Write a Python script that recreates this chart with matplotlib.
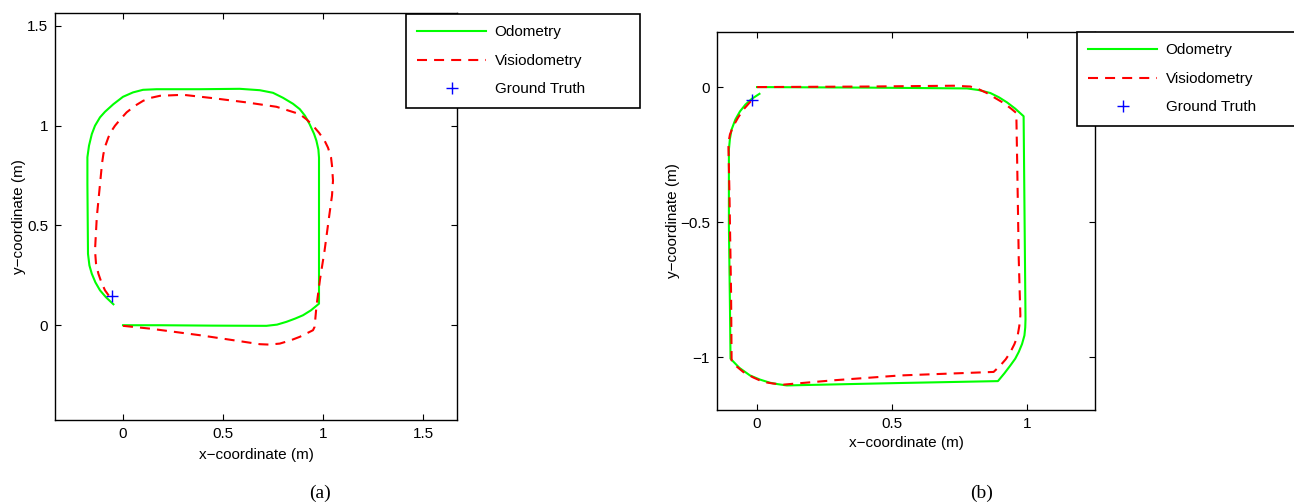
import matplotlib
matplotlib.use("Agg")
import matplotlib.pyplot as plt

plt.rcParams['font.family'] = ['Liberation Sans', 'DejaVu Sans']
plt.rcParams['font.size'] = 11

# ---- (a) trajectory data (metres) ----
odo_a_x = [0.0, 0.185, 0.45, 0.717, 0.77, 0.817, 0.86, 0.9, 0.94, 0.98, 0.98, 0.98,
           0.977, 0.967, 0.955, 0.933, 0.91, 0.884, 0.85, 0.8, 0.75, 0.684, 0.584,
           0.384, 0.168, 0.1, 0.05, 0.0, -0.048, -0.09, -0.115, -0.14, -0.156, -0.17,
           -0.178, -0.178, -0.175, -0.168, -0.156, -0.138, -0.115, -0.085, -0.048]
odo_a_y = [0.0, 0.0, -0.002, -0.003, 0.003, 0.017, 0.033, 0.05, 0.075, 0.108, 0.175,
           0.84, 0.88, 0.925, 0.96, 1.008, 1.05, 1.083, 1.11, 1.14, 1.165, 1.178, 1.185,
           1.183, 1.183, 1.18, 1.167, 1.145, 1.108, 1.07, 1.042, 1.0, 0.958, 0.9,
           0.842, 0.708, 0.358, 0.3, 0.258, 0.215, 0.175, 0.14, 0.105]

vis_a_x = [0.0, 0.135, 0.384, 0.551, 0.684, 0.73, 0.784, 0.84, 0.884, 0.93, 0.95, 0.958,
           0.967, 0.985, 1.008, 1.03, 1.045, 1.05, 1.045, 1.04, 1.025, 1.008, 0.98, 0.95,
           0.92, 0.884, 0.767, 0.617, 0.451, 0.301, 0.185, 0.14, 0.101, 0.06, 0.018,
           -0.015, -0.04, -0.06, -0.073, -0.088, -0.098, -0.105, -0.11, -0.131, -0.14,
           -0.135, -0.123, -0.108, -0.09, -0.06]
vis_a_y = [-0.003, -0.017, -0.05, -0.075, -0.095, -0.097, -0.092, -0.075, -0.058, -0.035,
           -0.025, -0.008, 0.092, 0.23, 0.375, 0.54, 0.65, 0.725, 0.8, 0.842, 0.89, 0.925,
           0.965, 1.0, 1.03, 1.058, 1.095, 1.117, 1.138, 1.155, 1.15, 1.14, 1.125, 1.1,
           1.067, 1.03, 1.0, 0.97, 0.942, 0.9, 0.858, 0.81, 0.758, 0.542, 0.375, 0.31,
           0.258, 0.215, 0.175, 0.133]

gt_a_x = [-0.056]
gt_a_y = [0.146]

# ---- (b) trajectory data (metres) ----
odo_b_x = [0.0, 0.406, 0.777, 0.82, 0.863, 0.895, 0.925, 0.955, 0.986, 0.993, 0.992,
           0.989, 0.98, 0.968, 0.955, 0.937, 0.915, 0.891, 0.53, 0.11, 0.075, 0.048,
           0.01, -0.026, -0.065, -0.098, -0.1, -0.104, -0.104, -0.1, -0.094, -0.08,
           -0.063, -0.043, -0.02, 0.009]
odo_b_y = [0.0, -0.002, -0.005, -0.011, -0.022, -0.038, -0.057, -0.08, -0.108, -0.859,
           -0.89, -0.92, -0.952, -0.981, -1.006, -1.031, -1.06, -1.089, -1.096, -1.105,
           -1.1, -1.095, -1.083, -1.068, -1.04, -1.006, -0.822, -0.514, -0.231, -0.19,
           -0.157, -0.12, -0.09, -0.065, -0.044, -0.025]

vis_b_x = [0.0, 0.406, 0.727, 0.789, 0.82, 0.85, 0.88, 0.912, 0.94, 0.959, 0.962, 0.968,
           0.974, 0.97, 0.964, 0.952, 0.937, 0.92, 0.9, 0.875, 0.53, 0.283, 0.098, 0.06,
           0.023, -0.015, -0.051, -0.075, -0.094, -0.096, -0.102, -0.106, -0.1, -0.088,
           -0.07, -0.051, -0.035, -0.02]
vis_b_y = [0.0, 0.002, 0.005, 0.002, -0.008, -0.022, -0.04, -0.059, -0.08, -0.096, -0.268,
           -0.637, -0.846, -0.885, -0.92, -0.952, -0.982, -1.008, -1.031, -1.055, -1.068,
           -1.086, -1.102, -1.098, -1.092, -1.075, -1.055, -1.035, -1.012, -0.76, -0.391,
           -0.207, -0.175, -0.145, -0.113, -0.084, -0.066, -0.049]

gt_b_x = [-0.018]
gt_b_y = [-0.048]

# ---- ticks / labels ----
ticks_a = [0, 0.5, 1, 1.5]
ticklabels_a = ['0', '0.5', '1', '1.5']
xticks_b = [0, 0.5, 1]
xticklabels_b = ['0', '0.5', '1']
yticks_b = [-1, -0.5, 0]
yticklabels_b = ['\u22121', '\u22120.5', '0']
legend_labels = ['Odometry', 'Visiodometry', 'Ground Truth']

W, H = 1294, 504
fig = plt.figure(figsize=(W / 100, H / 100), dpi=100)


def style_axes(ax):
    ax.tick_params(direction='in', top=True, right=True, length=4, width=0.8,
                   pad=5, labelsize=11)
    for sp in ax.spines.values():
        sp.set_linewidth(1.0)


def draw(ax, ox, oy, vx, vy, gx, gy):
    l1, = ax.plot(ox, oy, color=(0, 1, 0), lw=1.5)
    l2, = ax.plot(vx, vy, color=(1, 0, 0), lw=1.5, linestyle=(0, (4.8, 3.4)))
    l3, = ax.plot(gx, gy, linestyle='none', marker='+', color=(0, 0, 1),
                  markersize=8, markeredgewidth=1.0)
    return [l1, l2, l3]


# left panel
ax1 = fig.add_axes([55 / W, 1 - 420 / H, 402 / W, 407 / H])
h1 = draw(ax1, odo_a_x, odo_a_y, vis_a_x, vis_a_y, gt_a_x, gt_a_y)
ax1.set_xlim(-0.34, 1.67)
ax1.set_ylim(-0.475, 1.565)
ax1.set_xticks(ticks_a)
ax1.set_xticklabels(ticklabels_a)
ax1.set_yticks(ticks_a)
ax1.set_yticklabels(ticklabels_a)
ax1.set_xlabel('x\u2212coordinate (m)', fontsize=11, labelpad=5)
ax1.set_ylabel('y\u2212coordinate (m)', fontsize=11, labelpad=1)
style_axes(ax1)

# right panel
ax2 = fig.add_axes([717 / W, 1 - 410 / H, 378 / W, 378 / H])
h2 = draw(ax2, odo_b_x, odo_b_y, vis_b_x, vis_b_y, gt_b_x, gt_b_y)
ax2.set_xlim(-0.148, 1.25)
ax2.set_ylim(-1.196, 0.204)
ax2.set_xticks(xticks_b)
ax2.set_xticklabels(xticklabels_b)
ax2.set_yticks(yticks_b)
ax2.set_yticklabels(yticklabels_b)
ax2.set_xlabel('x\u2212coordinate (m)', fontsize=11, labelpad=4)
ax2.set_ylabel('y\u2212coordinate (m)', fontsize=11, labelpad=0)
style_axes(ax2)

# legends sit partly outside the axes, like the MATLAB originals
for handles, (x0, y_top) in [(h1, (406, 14)), (h2, (1077, 32))]:
    leg = fig.legend(handles, legend_labels, loc='upper left',
                     bbox_to_anchor=(x0 / W, 1 - (y_top + 93) / H, 234 / W, 93 / H),
                     bbox_transform=fig.transFigure, mode='expand',
                     borderaxespad=0, borderpad=0.75, labelspacing=0.95,
                     handlelength=4.5, handletextpad=0.55, fontsize=11,
                     fancybox=False, framealpha=1, edgecolor='black')
    leg.get_frame().set_linewidth(1.2)
    leg.set_zorder(10)

# sub-figure captions
fig.text(320 / W, 1 - 493 / H, '(a)', ha='center', va='center',
         family=['Liberation Serif', 'DejaVu Serif'], fontsize=14)
fig.text(982 / W, 1 - 493 / H, '(b)', ha='center', va='center',
         family=['Liberation Serif', 'DejaVu Serif'], fontsize=14)

fig.savefig('out.png', dpi=100)
